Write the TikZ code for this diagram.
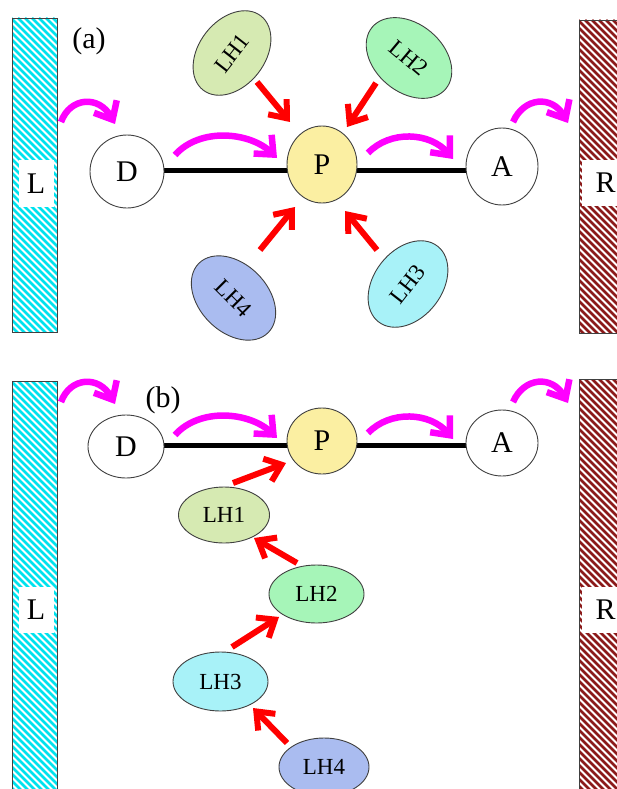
\documentclass[tikz,border=0pt]{standalone}
\usepackage{fontspec}
\setmainfont{Liberation Serif}
\usetikzlibrary{arrows.meta,calc,shapes.geometric,backgrounds}

\definecolor{hatchL}{HTML}{00E2EE}
\definecolor{hatchR}{HTML}{8B1A1A}
\definecolor{lhone}{HTML}{D6EAB2}
\definecolor{lhtwo}{HTML}{A6F5B8}
\definecolor{lhthree}{HTML}{A8F2F8}
\definecolor{lhfour}{HTML}{AABCF0}
\definecolor{pfill}{HTML}{FBEFA2}
\definecolor{edge}{HTML}{404040}
\definecolor{hopcol}{HTML}{FF00FF}
\definecolor{pushcol}{HTML}{FF0000}

\begin{document}
\begin{tikzpicture}[x=1pt,y=-1pt,
  site/.style={ellipse,draw=edge,fill=white,line width=0.9pt,inner sep=0pt,
    font=\fontsize{30}{32}\selectfont},
  lh/.style={ellipse,draw=edge,line width=0.9pt,inner sep=0pt,
    font=\fontsize{23}{25}\selectfont},
  bond/.style={line width=5pt},
  hop/.style={hopcol,line width=6.5pt,
    -{Straight Barb[length=15pt,width=26pt,sharp]}},
  push/.style={pushcol,line width=6pt,
    -{Straight Barb[length=15pt,width=24pt,sharp]}},
  lead/.style={rectangle,draw=edge,line width=0.9pt,inner sep=0pt,
    path picture={
      \foreach \s in {-470,-463,...,70}
        \draw[#1,line width=2.6pt]
          ([xshift=\s pt]path picture bounding box.north west) -- ++(520pt,-520pt);
    }},
  tag/.style={fill=white,inner sep=0pt,font=\fontsize{30}{32}\selectfont},
  panel/.style={inner sep=0pt,font=\fontsize{30}{32}\selectfont},
]
\useasboundingbox (0,0) rectangle (617,789);
\clip (0,0) rectangle (617,789);

% ---------------- panel (a) ----------------
\node[lead=hatchL,minimum width=45pt,minimum height=314pt] (La) at (34.5,175) {};
\node[tag,minimum width=35pt,minimum height=47pt] (Lta) at (36,183.5) {L};
\node[lead=hatchR,minimum width=61pt,minimum height=313pt] (Ra) at (609.5,176.5) {};
\node[tag,minimum width=47pt,minimum height=46pt] (Rta) at (605.5,182.5) {R};
\node[panel] (taga) at (89,41) {(a)};

\node[site,minimum width=74pt,minimum height=73pt] (Da) at (127,171.5) {D};
\node[site,fill=pfill,minimum width=70pt,minimum height=77pt] (Pa) at (322,164.5) {P};
\node[site,minimum width=72pt,minimum height=77pt] (Aa) at (502,166.5) {A};
\begin{scope}[on background layer]
  \draw[bond] ($(Da)+(0,-1.5)$) -- ($(Pa)+(0,5.5)$);
  \draw[bond] ($(Pa)+(0,5.5)$) -- ($(Aa)+(0,3.5)$);
\end{scope}

\node[lh,fill=lhone,minimum width=94pt,minimum height=66pt,rotate=52] (LHa1) at (232,53) {LH1};
\node[lh,fill=lhtwo,minimum width=96pt,minimum height=68pt,rotate=-40] (LHa2) at (409,58) {LH2};
\node[lh,fill=lhthree,minimum width=96pt,minimum height=68pt,rotate=52] (LHa3) at (408,284) {LH3};
\node[lh,fill=lhfour,minimum width=98pt,minimum height=68pt,rotate=-45] (LHa4) at (233.5,298) {LH4};

\draw[push] ($(LHa1)+(25,29)$) -- ($(Pa)+(-32,-42.5)$);
\draw[push] ($(LHa2)+(-33,25)$) -- ($(Pa)+(25,-37.5)$);
\draw[push] ($(LHa4)+(26.5,-48)$) -- ($(Pa)+(-27,42.5)$);
\draw[push] ($(LHa3)+(-31,-34)$) -- ($(Pa)+(23,46.5)$);

\coordinate (hLa) at (61,122);   \coordinate (hDa) at (115,124);
\coordinate (hDa2) at (175,155); \coordinate (hPa) at (277,158);
\coordinate (hPa2) at (368,153); \coordinate (hAa) at (453,159);
\coordinate (hAa2) at (513,122); \coordinate (hRa) at (568,123);
\draw[hop] (hLa) .. controls (70,97) and (99,95) .. (hDa);
\draw[hop] (hDa2) .. controls (200,127) and (250,132) .. (hPa);
\draw[hop] (hPa2) .. controls (390,130) and (430,132) .. (hAa);
\draw[hop] (hAa2) .. controls (524,97) and (552,95) .. (hRa);

% ---------------- panel (b) ----------------
\node[lead=hatchL,minimum width=45pt,minimum height=420pt] (Lb) at (34.5,591) {};
\node[tag,minimum width=35pt,minimum height=46pt] (Ltb) at (36,610) {L};
\node[lead=hatchR,minimum width=61pt,minimum height=422pt] (Rb) at (609.5,590) {};
\node[tag,minimum width=47pt,minimum height=46pt] (Rtb) at (605.5,610) {R};
\node[panel] (tagb) at (163,400) {(b)};

\node[site,minimum width=76pt,minimum height=63pt] (Db) at (126,446.5) {D};
\node[site,fill=pfill,minimum width=70pt,minimum height=66pt] (Pb) at (322,441) {P};
\node[site,minimum width=72pt,minimum height=66pt] (Ab) at (502,443) {A};
\begin{scope}[on background layer]
  \draw[bond] ($(Db)+(0,-1.5)$) -- ($(Pb)+(0,4)$);
  \draw[bond] ($(Pb)+(0,4)$) -- ($(Ab)+(0,2)$);
\end{scope}

\node[lh,fill=lhone,minimum width=91pt,minimum height=56pt] (LHb1) at (224,515) {LH1};
\node[lh,fill=lhtwo,minimum width=95pt,minimum height=58pt] (LHb2) at (316.5,594) {LH2};
\node[lh,fill=lhthree,minimum width=95pt,minimum height=59pt] (LHb3) at (220.5,681.5) {LH3};
\node[lh,fill=lhfour,minimum width=90pt,minimum height=58pt] (LHb4) at (324,767) {LH4};

\draw[push] ($(LHb1)+(9,-32)$) -- ($(Pb)+(-36,22)$);
\draw[push] ($(LHb2)+(-19.5,-31)$) -- ($(LHb1)+(30,23)$);
\draw[push] ($(LHb3)+(11.5,-34.5)$) -- ($(LHb2)+(-37.5,23)$);
\draw[push] ($(LHb4)+(-37,-24)$) -- ($(LHb3)+(32.5,26.5)$);

\coordinate (hLb) at (61,402);   \coordinate (hDb) at (115,404);
\coordinate (hDb2) at (175,435); \coordinate (hPb) at (277,438);
\coordinate (hPb2) at (368,433); \coordinate (hAb) at (453,439);
\coordinate (hAb2) at (513,402); \coordinate (hRb) at (568,403);
\draw[hop] (hLb) .. controls (70,377) and (99,375) .. (hDb);
\draw[hop] (hDb2) .. controls (200,407) and (250,412) .. (hPb);
\draw[hop] (hPb2) .. controls (390,410) and (430,412) .. (hAb);
\draw[hop] (hAb2) .. controls (524,377) and (552,375) .. (hRb);
\end{tikzpicture}
\end{document}
